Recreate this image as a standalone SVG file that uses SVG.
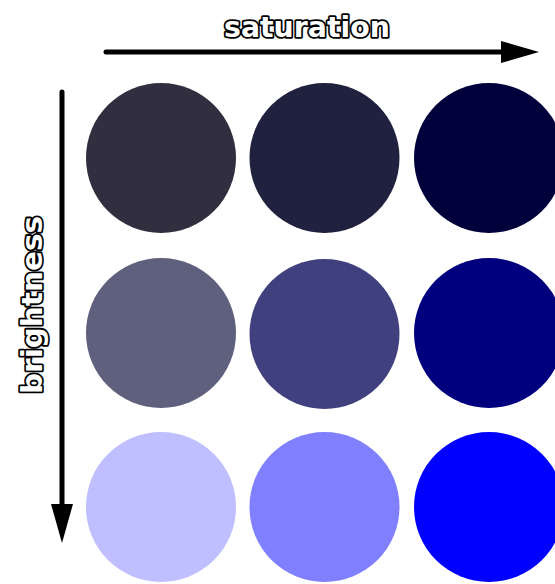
<svg xmlns="http://www.w3.org/2000/svg" width="555" height="584" viewBox="0 0 555 584">
<style>
.lbl{font-family:"DejaVu Sans",sans-serif;font-weight:bold;font-size:28px;fill:#fff;stroke:#000;stroke-width:3.5px;paint-order:stroke;stroke-linejoin:round}
.ax{stroke:#000;stroke-width:5;stroke-linecap:round;fill:none}
</style>
<rect width="555" height="584" fill="#fff"/>
<g id="connectors">
<line class="ax" x1="106" y1="52" x2="505" y2="52"/>
<polygon points="501,41 539,52 501,63" fill="#000"/>
<line class="ax" x1="62" y1="92" x2="62" y2="508"/>
<polygon points="51,504 62,543 73,504" fill="#000"/>
</g>
<g id="label-saturation"><text class="lbl" x="224" y="37" textLength="166" lengthAdjust="spacingAndGlyphs">saturation</text></g>
<g id="label-brightness"><text class="lbl" transform="translate(42,394) rotate(-90)" x="0" y="0" textLength="178" lengthAdjust="spacingAndGlyphs">brightness</text></g>
<g id="c11"><circle cx="161" cy="158" r="75" fill="#312f3f"/></g>
<g id="c12"><circle cx="324.5" cy="158" r="75" fill="#20203f"/></g>
<g id="c13"><circle cx="489" cy="158" r="75" fill="#00003a"/></g>
<g id="c21"><circle cx="161" cy="333" r="75" fill="#5f5f7e"/></g>
<g id="c22"><circle cx="324.5" cy="334" r="75" fill="#40407e"/></g>
<g id="c23"><circle cx="489" cy="333" r="75" fill="#00007e"/></g>
<g id="c31"><circle cx="161" cy="507" r="75" fill="#bfbfff"/></g>
<g id="c32"><circle cx="324.5" cy="507" r="75" fill="#8080ff"/></g>
<g id="c33"><circle cx="489" cy="507" r="75" fill="#0000ff"/></g>
</svg>
